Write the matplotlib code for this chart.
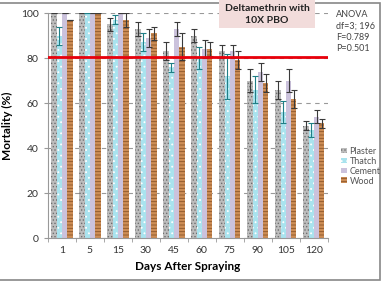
import matplotlib.pyplot as plt
import matplotlib.patches as mpatches
import numpy as np

plt.rcParams['font.family'] = ['Lato', 'DejaVu Sans']
plt.rcParams['hatch.linewidth'] = 0.6

# data
days = ['1', '5', '15', '30', '45', '60', '75', '90', '105', '120']
plaster = [100, 100, 95, 93, 83, 90, 83, 70, 66, 50]
thatch = [90, 100, 97, 87, 76, 80, 72, 66, 56, 48]
cement = [100, 100, 100, 89, 93, 84, 83, 74, 70, 54]
wood = [97, 100, 97, 91, 85, 84, 79, 69, 62, 51]
plaster_err = [0, 0, 3, 3, 4, 3, 3, 5, 4, 2]
thatch_err = [4, 0, 2, 4, 2, 5, 10, 6, 5, 3]
cement_err = [0, 0, 0, 4, 3, 4, 3, 4, 5, 3]
wood_err = [0, 0, 3, 3, 6, 3, 4, 4, 4, 2]
threshold = 80.5

fig = plt.figure(figsize=(3.83, 2.83), dpi=100)
ax = fig.add_axes([0.125, 0.159, 0.731, 0.795])

x = np.arange(len(days))
w = 0.19
series = [
    ('Plaster', plaster, plaster_err, '#bdbdbd', '#6e6e6e', '.....', '#3a3a3a'),
    ('Thatch', thatch, thatch_err, '#a9e3ee', '#ffffff', '...', '#1f7f86'),
    ('Cement', cement, cement_err, '#cbc2dc', '#cbc2dc', None, '#3a3a3a'),
    ('Wood', wood, wood_err, '#cd8d55', '#8a5428', '-----', '#3a3a3a'),
]
handles = []
for i, (name, vals, errs, fc, hc, hatch, ec) in enumerate(series):
    pos = x + (i - 1.5) * w
    ax.bar(pos, vals, w, color=fc, edgecolor=hc, hatch=hatch, linewidth=0,
           zorder=2)
    ax.errorbar(pos, vals, yerr=errs, fmt='none', ecolor=ec, elinewidth=0.8,
                capsize=2, capthick=0.8, zorder=3)
    handles.append(mpatches.Patch(facecolor=fc, edgecolor=hc, hatch=hatch,
                                  linewidth=0, label=name))

ax.axhline(threshold, color='#e8000b', lw=2, zorder=4)

ax.set_xlim(-0.5, len(days) - 0.5)
ax.set_ylim(0, 100)
ax.set_yticks([0, 20, 40, 60, 80, 100])
ax.set_xticks(x)
ax.set_xticklabels(days)
ax.set_xticks(np.arange(len(days) + 1) - 0.5, minor=True)
ax.tick_params(axis='x', which='major', length=0, labelsize=7.5, pad=6,
               colors='#333333')
ax.tick_params(axis='x', which='minor', length=3, color='#999999')
ax.tick_params(axis='y', labelsize=7.5, length=3, color='#999999',
               colors='#333333')
ax.yaxis.grid(True, linestyle=(0, (4, 4)), color='#999999', lw=0.8, zorder=0)
ax.set_axisbelow(True)
for s in ['top', 'right']:
    ax.spines[s].set_visible(False)
for s in ['left', 'bottom']:
    ax.spines[s].set_color('#999999')

ax.set_ylabel('Mortality (%)', fontsize=8.5, fontweight='bold', labelpad=6)
ax.set_xlabel('Days After Spraying', fontsize=8.5, fontweight='bold',
              labelpad=4)

# title box
fig.patches.append(mpatches.Rectangle((0.572, 0.901), 0.25, 0.099,
                                      transform=fig.transFigure,
                                      facecolor='#f2dcdb', edgecolor='none',
                                      zorder=5))
fig.text(0.697, 0.948, 'Deltamethrin with\n10X PBO', ha='center',
         va='center', fontsize=7.5, fontweight='bold', color='#222222',
         linespacing=1.35, zorder=6)

fig.text(0.878, 0.965, 'ANOVA\ndf=3; 196\nF=0.789\nP=0.501', ha='left',
         va='top', fontsize=6.5, color='#444444', linespacing=1.35)

fig.legend(handles=handles, loc='upper left', bbox_to_anchor=(0.87, 0.51),
           frameon=False, fontsize=6.5, handlelength=0.6, handleheight=0.6,
           handletextpad=0.3, labelspacing=0.1, labelcolor='#555555')

# outer frame
fig.patches.append(mpatches.Rectangle((-0.01, 0.01), 1.003, 0.98,
                                      transform=fig.transFigure, fill=False,
                                      edgecolor='#888888', lw=1.2))

fig.savefig('out.png', dpi=100)
